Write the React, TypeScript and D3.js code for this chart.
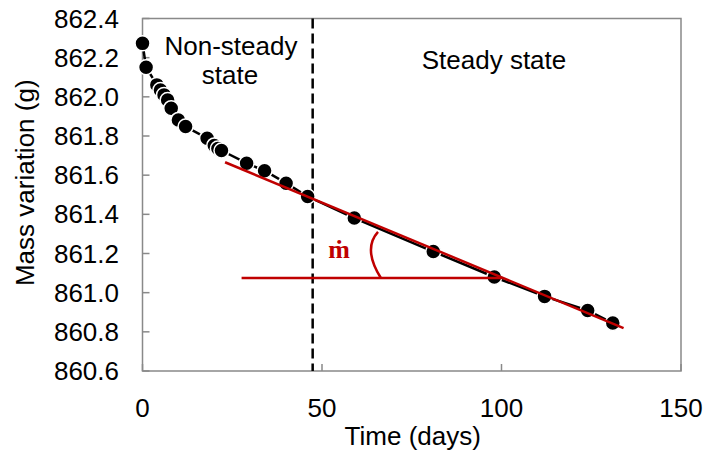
import React from "react";
import * as d3 from "d3";

// Measured data: time (days) and mass (g)
const days = [0, 1, 4, 5, 6, 7, 8, 10, 12, 18, 20, 21, 22, 29, 34, 40, 46, 59, 81, 98, 112, 124, 131];
const mass = [862.273, 862.151, 862.061, 862.035, 862.01, 861.984, 861.942, 861.882, 861.848, 861.789, 861.752, 861.736, 861.726, 861.661, 861.623, 861.559, 861.491, 861.381, 861.21, 861.08, 860.981, 860.909, 860.845];

// Steady-state linear trend (red)
const trendDays = [23, 134];
const trendMass = [861.666, 860.819];

// Horizontal reference line for the slope angle
const refDays = [27.6, 100.3];
const refMass = 861.075;

// Angle arc (start, control, end) in data units
const arcDays = [66.4, 61.3, 65.6];
const arcMass = [861.075, 861.223, 861.31];

// Boundary between regimes
const boundaryDay = 47.4;

const xTicks = [0, 50, 100, 150];
const yTicks = [860.6, 860.8, 861.0, 861.2, 861.4, 861.6, 861.8, 862.0, 862.2, 862.4];

const W = 705;
const H = 453;
const left = 142.5;
const right = 681;
const top = 18.5;
const bottom = 371;
const RED = "#C00000";
const GRAY = "#898989";
const FONT = "Liberation Sans, Arial, sans-serif";

export default function App() {
  const x = d3.scaleLinear().domain([0, 150]).range([left, right]);
  const y = d3.scaleLinear().domain([860.6, 862.4]).range([bottom, top]);

  const pts = days.map((d, i) => [d, mass[i]] as [number, number]);
  const line = d3
    .line<[number, number]>()
    .x((p) => x(p[0]))
    .y((p) => y(p[1]));

  const arcPath = `M${x(arcDays[0])},${y(arcMass[0])} Q${x(arcDays[1])},${y(arcMass[1])} ${x(arcDays[2])},${y(arcMass[2])}`;

  return (
    <svg
      width={W}
      height={H}
      style={{ position: "absolute", left: 0, top: 0, background: "#fff" }}
      fontFamily={FONT}
    >
      <rect x={0} y={0} width={W} height={H} fill="#fff" />
      {/* frame */}
      <rect
        x={left}
        y={top}
        width={right - left}
        height={bottom - top}
        fill="none"
        stroke={GRAY}
        strokeWidth={1.5}
      />
      {/* y ticks (inside) */}
      {yTicks.map((t) => (
        <g key={"y" + t}>
          <line x1={left} x2={left + 7} y1={y(t)} y2={y(t)} stroke={GRAY} strokeWidth={1.5} />
          <text x={119} y={y(t) + 9} textAnchor="end" fontSize={26} fill="#000">
            {t.toFixed(1)}
          </text>
        </g>
      ))}
      {/* x ticks (inside) */}
      {xTicks.map((t) => (
        <g key={"x" + t}>
          <line x1={x(t)} x2={x(t)} y1={bottom} y2={bottom - 7} stroke={GRAY} strokeWidth={1.5} />
          <text x={x(t)} y={417} textAnchor="middle" fontSize={26} fill="#000">
            {t}
          </text>
        </g>
      ))}
      {/* axis titles */}
      <text x={x(75) + 1} y={445} textAnchor="middle" fontSize={26} fill="#000">
        Time (days)
      </text>
      <text
        transform={`translate(34, ${(top + bottom) / 2 - 12}) rotate(-90)`}
        textAnchor="middle"
        fontSize={26}
        fill="#000"
      >
        Mass variation (g)
      </text>

      {/* regime boundary */}
      <line
        x1={x(boundaryDay)}
        x2={x(boundaryDay)}
        y1={top}
        y2={bottom}
        stroke="#000"
        strokeWidth={2.5}
        strokeDasharray="10 5"
      />

      {/* connecting line */}
      <path d={line(pts) || ""} fill="none" stroke="#000" strokeWidth={2.5} />
      {/* markers */}
      {pts.map((p, i) => (
        <circle key={i} cx={x(p[0])} cy={y(p[1])} r={7.5} fill="#000" stroke="#fff" strokeWidth={1.5} />
      ))}

      {/* trend */}
      <line
        x1={x(trendDays[0])}
        y1={y(trendMass[0])}
        x2={x(trendDays[1])}
        y2={y(trendMass[1])}
        stroke={RED}
        strokeWidth={2.5}
      />
      <line
        x1={x(refDays[0])}
        y1={y(refMass)}
        x2={x(refDays[1])}
        y2={y(refMass)}
        stroke={RED}
        strokeWidth={2.5}
      />
      <path d={arcPath} fill="none" stroke={RED} strokeWidth={2.5} />
      <text
        x={339}
        y={258}
        textAnchor="middle"
        fontSize={26}
        fontWeight="bold"
        fontFamily="Liberation Serif, Times New Roman, serif"
        fill={RED}
      >
        ṁ
      </text>

      {/* region labels */}
      <text x={231} y={55} textAnchor="middle" fontSize={26} fill="#000">
        Non-steady
      </text>
      <text x={230} y={84} textAnchor="middle" fontSize={26} fill="#000">
        state
      </text>
      <text x={494} y={69} textAnchor="middle" fontSize={26} fill="#000">
        Steady state
      </text>
    </svg>
  );
}
